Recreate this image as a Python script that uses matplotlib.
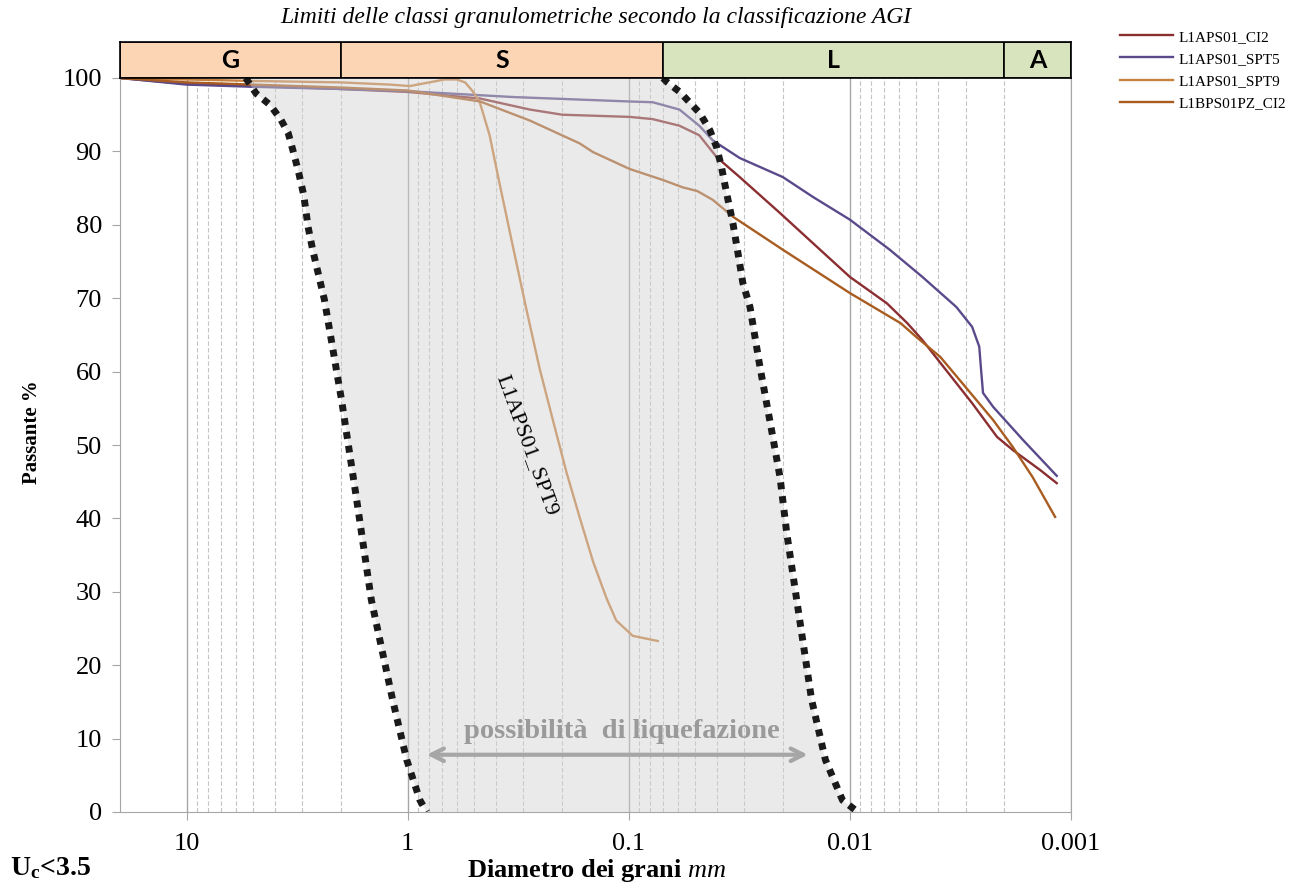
import numpy as np
import matplotlib
matplotlib.use('Agg')
import matplotlib.pyplot as plt
from matplotlib.ticker import FixedLocator, LogLocator, NullFormatter

plt.rcParams['font.family'] = ['Liberation Serif', 'DejaVu Serif']
plt.rcParams['mathtext.fontset'] = 'custom'
plt.rcParams['mathtext.rm'] = 'Liberation Serif'
plt.rcParams['mathtext.it'] = 'Liberation Serif:italic'
plt.rcParams['mathtext.bf'] = 'Liberation Serif:bold'

# curve granulometriche (diametro mm, passante %)
ci2_d = [20, 10, 5, 2, 1, 0.47, 0.28, 0.20, 0.099, 0.078, 0.059, 0.048, 0.040, 0.0315,
         0.0207, 0.0147, 0.010, 0.0068, 0.0055, 0.0047, 0.0039, 0.0028, 0.00216,
         0.00183, 0.00138, 0.00116]
ci2_p = [100, 99.2, 98.9, 98.5, 98.1, 97.2, 95.7, 95.0, 94.7, 94.4, 93.5, 92.2, 89.2, 86.5,
         81.6, 77.5, 72.9, 69.3, 66.6, 64.3, 61.2, 55.7, 51.1, 49.3, 46.6, 44.8]

spt5_d = [20, 10, 5, 2, 1, 0.33, 0.099, 0.078, 0.059, 0.048, 0.0417, 0.0315, 0.0201,
          0.0147, 0.010, 0.0066, 0.0047, 0.0033, 0.0028, 0.0026, 0.00255, 0.0025,
          0.00225, 0.00165, 0.00116]
spt5_p = [100, 99.1, 98.8, 98.5, 98.2, 97.4, 96.8, 96.7, 95.7, 93.5, 91.5, 89.1, 86.5,
          83.8, 80.7, 76.6, 72.9, 68.8, 66.1, 63.4, 60.2, 57.1, 55.2, 50.7, 45.8]

spt9_d = [20, 10, 5, 2, 1.2, 0.98, 0.8, 0.68, 0.6, 0.55, 0.508, 0.472, 0.426, 0.384, 0.334,
          0.290, 0.253, 0.220, 0.191, 0.167, 0.145, 0.126, 0.114, 0.096, 0.074]
spt9_p = [100, 99.8, 99.6, 99.4, 99.1, 98.9, 99.4, 99.8, 99.8, 99.4, 98.2, 96.7, 92.2, 85.6,
          77.0, 68.4, 60.4, 53.3, 46.2, 40.2, 34.1, 29.1, 26.1, 24.0, 23.3]

pz_d = [20, 10, 5, 2, 1, 0.47, 0.28, 0.167, 0.145, 0.099, 0.070, 0.057, 0.049, 0.0417,
        0.0338, 0.0201, 0.010, 0.0059, 0.0050, 0.0039, 0.0030, 0.00225, 0.00183,
        0.00149, 0.00118]
pz_p = [100, 99.4, 99.1, 98.7, 98.3, 96.8, 94.2, 91.1, 89.9, 87.6, 86.1, 85.1, 84.6, 83.4,
        81.1, 76.6, 70.7, 66.6, 64.7, 62.0, 57.9, 53.4, 49.7, 45.6, 40.2]

# fuso granulometrico (possibilita' di liquefazione, Uc<3.5)
left_d = [5.4, 4.85, 4.18, 3.74, 3.47, 3.28, 3.11, 2.95, 2.82, 2.69, 2.38, 1.99, 1.70,
          1.46, 1.17, 1.01, 0.88, 0.82]
left_p = [100, 97.9, 96.3, 94.3, 92.5, 89.8, 87.1, 84.0, 79.7, 76.6, 69.8, 56.1, 42.5,
          28.9, 15.3, 7.1, 1.6, 0]
right_d = [0.070, 0.0675, 0.0588, 0.0477, 0.0430, 0.0401, 0.0381, 0.0361, 0.0338, 0.0321,
           0.0305, 0.0283, 0.0255, 0.0226, 0.0207, 0.0193, 0.0174, 0.0149, 0.0129,
           0.0108, 0.0092]
right_p = [100, 99.5, 98.1, 95.2, 92.9, 90.6, 87.9, 84.3, 80.2, 76.2, 72.1, 68.8, 60.6,
           52.0, 45.6, 38.0, 28.9, 15.3, 7.1, 1.6, 0]

# classi AGI
class_names = ['G', 'S', 'L', 'A']
class_bounds = [20, 2, 0.07, 0.002, 0.001]
class_colors = ['#fcd5b5', '#fcd5b5', '#d7e4bd', '#d7e4bd']

series = [('L1APS01_CI2', ci2_d, ci2_p, '#8b2e31'),
          ('L1APS01_SPT5', spt5_d, spt5_p, '#5b4a8b'),
          ('L1APS01_SPT9', spt9_d, spt9_p, '#c8803e'),
          ('L1BPS01PZ_CI2', pz_d, pz_p, '#a95c20')]

fig = plt.figure(figsize=(13.12, 8.85), dpi=100)
L, R = 120/1312, 1071/1312
B, T = 1-812/885, 1-78/885
ax = fig.add_axes([L, B, R-L, T-B])
ax.set_xscale('log')

lines = []
for name, d, p, c in series:
    ln, = ax.plot(d, p, color=c, lw=1.7, zorder=2, label=name)
    lines.append(ln)

# area grigia sopra le curve (le sbiadisce come nell'originale)
ax.fill(left_d + right_d[::-1], left_p + right_p[::-1], color='#d2d2d2', alpha=0.45,
        lw=0, zorder=3)
for d, p in [(left_d, left_p), (right_d, right_p)]:
    ax.plot(d, p, color='#1a1a1a', lw=5, ls=(0, (1, 1)), dash_capstyle='butt', zorder=4)

ax.annotate('', xy=(0.0155, 7.8), xytext=(0.82, 7.8),
            arrowprops=dict(arrowstyle='<->,head_length=0.9,head_width=0.45',
                            color='#a6a6a6', lw=3, shrinkA=0, shrinkB=0), zorder=5)
ax.text(0.1076, 10.9, 'possibilità  di liquefazione', ha='center', va='center',
        fontsize=20.5, fontweight='bold', color='#9a9a9a', zorder=5)
ax.text(0.29, 49.9, 'L1APS01_SPT9', rotation=-70, ha='center', va='center',
        fontsize=16, zorder=5)

ax.set_xlim(20, 0.001)
ax.set_ylim(0, 100)
ax.xaxis.set_major_locator(FixedLocator([10, 1, 0.1, 0.01, 0.001]))
ax.set_xticklabels(['10', '1', '0.1', '0.01', '0.001'])
ax.xaxis.set_minor_locator(LogLocator(base=10, subs=np.arange(2, 10)))
ax.xaxis.set_minor_formatter(NullFormatter())
ax.set_yticks(np.arange(0, 101, 10))
ax.grid(which='major', axis='x', color='#a6a6a6', lw=1, zorder=0)
ax.grid(which='minor', axis='x', color='#c4c4c4', lw=0.8, ls=(0, (4, 2)), zorder=0)
ax.set_axisbelow(True)
ax.tick_params(axis='y', length=6, color='#a6a6a6', labelsize=19, pad=7)
ax.tick_params(axis='x', which='major', length=6, color='#a6a6a6', labelsize=19, pad=9)
ax.tick_params(axis='x', which='minor', length=0)
for s in ['left', 'bottom', 'right']:
    ax.spines[s].set_color('#a6a6a6')
ax.spines['top'].set_visible(False)

# barra delle classi
bax = fig.add_axes([L, T, R-L, 36/885])
bax.set_xscale('log')
for i in range(len(class_names)):
    lo, hi = class_bounds[i], class_bounds[i+1]
    bax.axvspan(lo, hi, facecolor=class_colors[i], edgecolor='black', lw=1.2)
    bax.text(np.sqrt(lo*hi), 0.5, class_names[i], ha='center', va='center',
             fontsize=18, fontweight='bold', family='Lato')
bax.set_xlim(20, 0.001)
bax.set_ylim(0, 1)
bax.set_xticks([])
bax.set_yticks([])
bax.minorticks_off()
for s in bax.spines.values():
    s.set_color('black')
    s.set_linewidth(1.2)

fig.text((L+R)/2, 1-18/885, 'Limiti delle classi granulometriche secondo la classificazione AGI',
         ha='center', va='center', fontsize=17, style='italic')
fig.text(32/1312, 1-432/885, 'Passante %', rotation=90, ha='center', va='center',
         fontsize=15, fontweight='bold')
fig.text(597/1312, 1-871/885, r'Diametro dei grani $\mathit{mm}$', ha='center', va='center',
         fontsize=19, fontweight='bold')
fig.text(10/1312, 1-868/885, r'$\mathbf{U_c}$<3.5', ha='left', va='center',
         fontsize=20, fontweight='bold')

fig.legend(handles=lines, loc='upper left', bbox_to_anchor=(1120/1312, 1-30/885),
           frameon=False, fontsize=11, handlelength=3.5, handletextpad=0.3,
           labelspacing=0.55, borderaxespad=0, borderpad=0)

plt.savefig('out.png', dpi=100)
